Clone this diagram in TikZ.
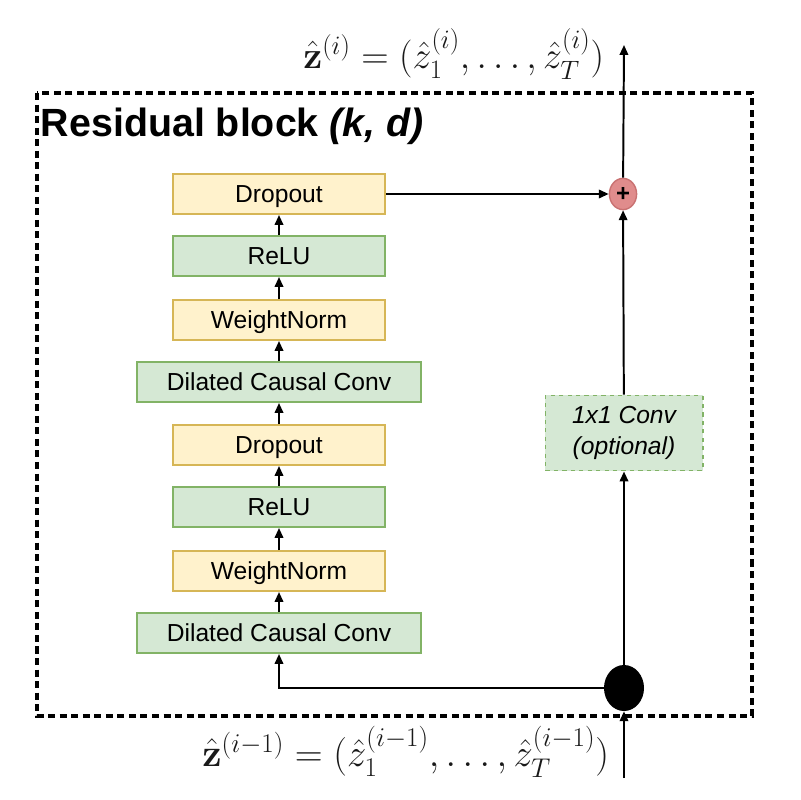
\RequirePackage{fix-cm}
\documentclass[tikz,border=0pt]{standalone}
\usepackage{amsmath, amssymb}
\usepackage[no-math]{fontspec}
\setmainfont{Liberation Sans}
\usetikzlibrary{arrows.meta, shapes.geometric}

\definecolor{yellowfill}{HTML}{FFF2CC}
\definecolor{yellowline}{HTML}{D6B656}
\definecolor{greenfill}{HTML}{D5E8D4}
\definecolor{greenline}{HTML}{82B366}
\definecolor{plusfill}{HTML}{E08C8C}
\definecolor{plusline}{HTML}{C97272}

\begin{document}
\begin{tikzpicture}[x=0.025cm, y=-0.025cm,
    layer/.style={draw, line width=1.4pt, minimum width=5.3cm, minimum height=1.0cm,
        text height=12.5pt, text depth=0pt, font=\fontsize{17.5}{20}\selectfont},
    yellowbox/.style={layer, fill=yellowfill, draw=yellowline},
    greenbox/.style={layer, fill=greenfill, draw=greenline},
    flow/.style={line width=1.4pt, -{Triangle[width=6pt, length=7pt]}}]
    \useasboundingbox (0,0) rectangle (800,800);

    % Residual block frame
    \draw[line width=2.3pt, dash pattern=on 5pt off 3.2pt] (37,93) rectangle (752,716);
    \node[anchor=base west, font=\bfseries\fontsize{28}{32}\selectfont] (title) at (36,137)
        {Residual block \textit{(k, d)}};

    % Layer stack, bottom to top
    \node[greenbox, minimum width=7.1cm] (dcc1) at (279,633) {Dilated Causal Conv};
    \node[yellowbox] (wn1) at (279,571) {WeightNorm};
    \node[greenbox] (relu1) at (279,507) {ReLU};
    \node[yellowbox] (drop1) at (279,445) {Dropout};
    \node[greenbox, minimum width=7.1cm] (dcc2) at (279,382) {Dilated Causal Conv};
    \node[yellowbox] (wn2) at (279,320) {WeightNorm};
    \node[greenbox] (relu2) at (279,256) {ReLU};
    \node[yellowbox] (drop2) at (279,194) {Dropout};

    % Skip path
    \node[draw=greenline, fill=greenfill, line width=1.4pt, dashed, minimum width=3.925cm,
        minimum height=1.875cm, align=center, font=\itshape\fontsize{17.5}{22}\selectfont]
        (conv) at (624,433) {1x1 Conv\\(optional)};
    \node[ellipse, fill=plusfill, draw=plusline, line width=1pt, minimum width=0.68cm,
        minimum height=0.78cm, inner sep=0pt, font=\bfseries\fontsize{17}{17}\selectfont]
        (plus) at (623,194) {+};
    \node[ellipse, fill=black, minimum width=1.0cm, minimum height=1.15cm, inner sep=0pt]
        (split) at (624,688) {};

    \coordinate (in) at (624,778);
    \coordinate (out) at (624,45);

    % Input and output sequences
    \node[anchor=east, text=black!90, font=\fontsize{27}{32}\selectfont] (zout) at (609,54)
        {$\hat{\mathbf{z}}^{(i)} = (\hat{z}_1^{(i)}, \ldots, \hat{z}_T^{(i)})$};
    \node[anchor=east, text=black!90, font=\fontsize{27.5}{32}\selectfont] (zin) at (614,752)
        {$\hat{\mathbf{z}}^{(i-1)} = (\hat{z}_1^{(i-1)}, \ldots, \hat{z}_T^{(i-1)})$};

    % Connectors
    \draw[flow] (in) -- (split);
    \draw[flow] (split) -| (dcc1);
    \draw[flow] (split) -- (conv);
    \draw[flow] (conv) -- (plus);
    \draw[flow] (plus) -- (out);
    \draw[flow] (dcc1) -- (wn1);
    \draw[flow] (wn1) -- (relu1);
    \draw[flow] (relu1) -- (drop1);
    \draw[flow] (drop1) -- (dcc2);
    \draw[flow] (dcc2) -- (wn2);
    \draw[flow] (wn2) -- (relu2);
    \draw[flow] (relu2) -- (drop2);
    \draw[flow] (drop2) -- (plus);
\end{tikzpicture}
\end{document}
